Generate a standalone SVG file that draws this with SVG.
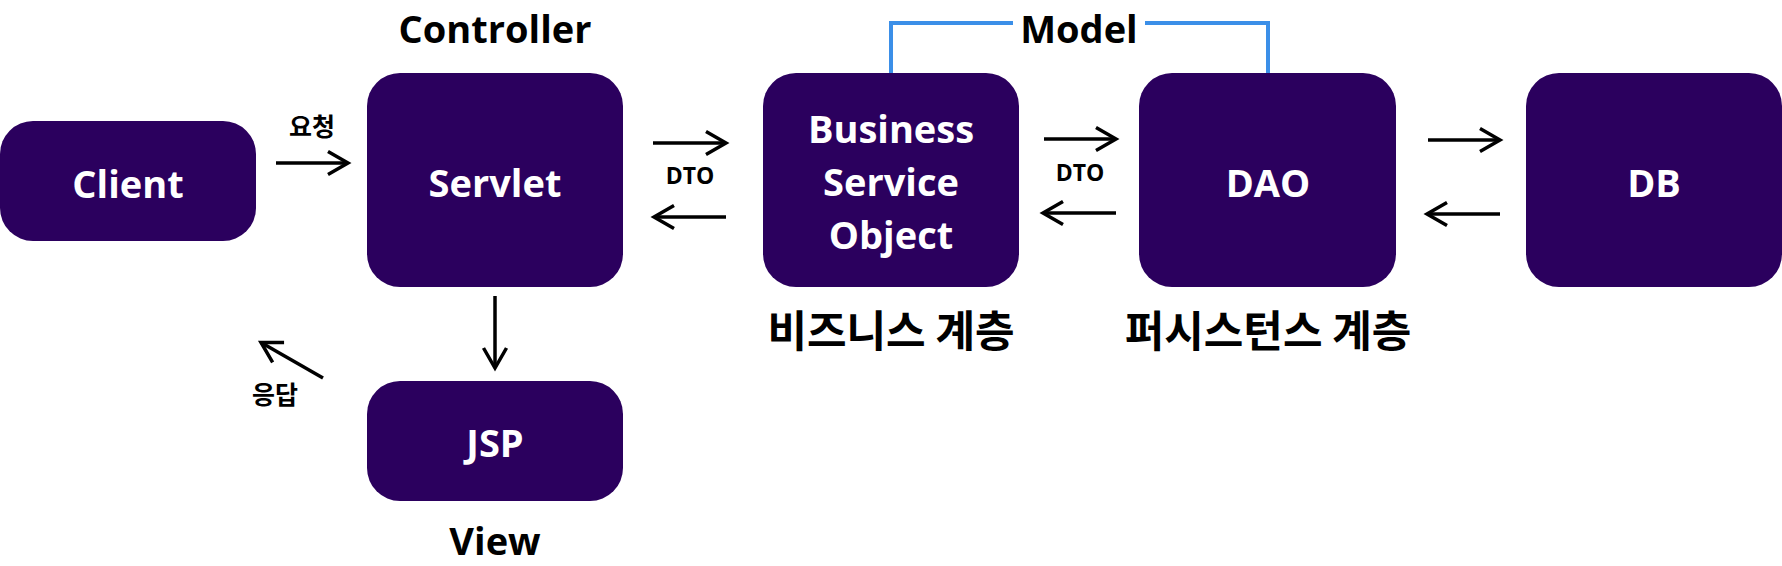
<svg xmlns="http://www.w3.org/2000/svg" width="1782" height="566" viewBox="0 0 1782 566">
<defs>
<style>
.box{fill:#2b005e;}
.nt{fill:#ffffff;font-family:"Open Sans","Noto Sans CJK KR",sans-serif;font-weight:700;font-size:38px;text-anchor:middle;}
.lbl{fill:#000000;font-family:"Open Sans","Noto Sans CJK KR",sans-serif;font-weight:700;font-size:38px;text-anchor:middle;}
.kr{fill:#000000;font-family:"Noto Sans CJK KR",sans-serif;font-weight:700;font-size:43px;text-anchor:middle;}
.sm{fill:#000000;font-family:"Noto Sans CJK KR","Open Sans",sans-serif;font-weight:700;font-size:25px;text-anchor:middle;}
.dto{fill:#000000;font-family:"Open Sans","Noto Sans CJK KR",sans-serif;font-weight:700;font-size:23px;text-anchor:middle;}
.arr{stroke:#000000;stroke-width:3.5;fill:none;marker-end:url(#ah);}
.model{stroke:#3b8fe8;stroke-width:4;fill:none;}
</style>
<marker id="ah" markerUnits="userSpaceOnUse" viewBox="-26 -16 30 32" markerWidth="30" markerHeight="32" refX="0" refY="0" orient="auto">
<path d="M-20,-11.5 L0,0 L-20,11.5" fill="none" stroke="#000000" stroke-width="3.5" stroke-linejoin="miter"/>
</marker>
</defs>
<rect width="1782" height="566" fill="#ffffff"/>

<g id="connectors">
<line class="arr" x1="276" y1="163" x2="348" y2="163"/>
<line class="arr" x1="653" y1="143" x2="726" y2="143"/>
<line class="arr" x1="726" y1="217" x2="654" y2="217"/>
<line class="arr" x1="1044" y1="139" x2="1116" y2="139"/>
<line class="arr" x1="1116" y1="213" x2="1043" y2="213"/>
<line class="arr" x1="1428" y1="140" x2="1500" y2="140"/>
<line class="arr" x1="1500" y1="214" x2="1427" y2="214"/>
<line class="arr" x1="495" y1="296" x2="495" y2="368"/>
<line class="arr" x1="323" y1="378" x2="261" y2="342.5"/>
<polyline class="model" points="891,73 891,23 1013,23"/>
<polyline class="model" points="1145,23 1268,23 1268,73"/>
</g>

<g id="client">
<rect class="box" x="0" y="121" width="256" height="120" rx="33"/>
<text class="nt" x="128" y="198">Client</text>
</g>
<g id="servlet">
<rect class="box" x="367" y="73" width="256" height="214" rx="33"/>
<text class="nt" x="495" y="197">Servlet</text>
</g>
<g id="jsp">
<rect class="box" x="367" y="381" width="256" height="120" rx="33"/>
<text class="nt" x="495" y="457">JSP</text>
</g>
<g id="bso">
<rect class="box" x="763" y="73" width="256" height="214" rx="33"/>
<text class="nt" x="891" y="143">Business</text>
<text class="nt" x="891" y="196">Service</text>
<text class="nt" x="891" y="249">Object</text>
</g>
<g id="dao">
<rect class="box" x="1139" y="73" width="257" height="214" rx="33"/>
<text class="nt" x="1268" y="197">DAO</text>
</g>
<g id="db">
<rect class="box" x="1526" y="73" width="256" height="214" rx="33"/>
<text class="nt" x="1654" y="197">DB</text>
</g>

<g id="labels">
<text class="lbl" x="495" y="43">Controller</text>
<text class="lbl" x="495" y="555">View</text>
<text class="lbl" x="1079" y="43">Model</text>
<text class="sm" x="312" y="136">요청</text>
<text class="sm" x="275" y="404">응답</text>
<text class="dto" x="690" y="184">DTO</text>
<text class="dto" x="1080" y="181">DTO</text>
<text class="kr" x="891" y="347">비즈니스 계층</text>
<text class="kr" x="1268" y="347">퍼시스턴스 계층</text>
</g>
</svg>
